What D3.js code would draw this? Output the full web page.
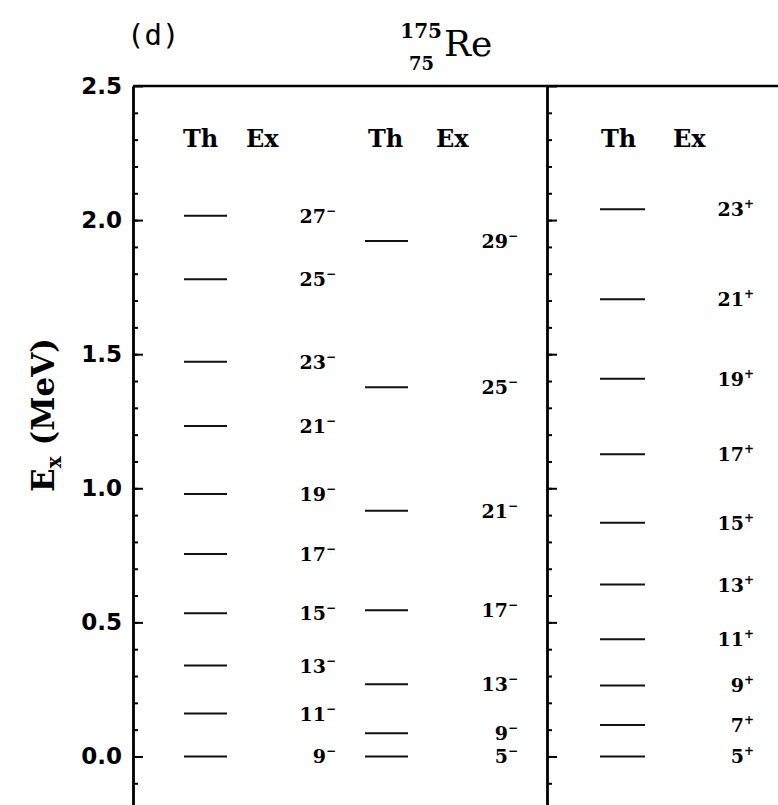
<!DOCTYPE html>
<html>
<head>
<meta charset="utf-8">
<script src="https://cdn.jsdelivr.net/npm/d3@7"></script>
<style>
  body { margin: 0; background: #fff; }
  svg { display: block; }
</style>
</head>
<body>
<div id="chart"></div>
<script>
// level energies (MeV), theory columns only
var spinsA = [9, 11, 13, 15, 17, 19, 21, 23, 25, 27];
var energiesA = [0.0, 0.160, 0.339, 0.534, 0.755, 0.979, 1.232, 1.472, 1.779, 2.016];
var parityA = "−";

var spinsB = [5, 9, 13, 17, 21, 25, 29];
var energiesB = [0.0, 0.087, 0.269, 0.545, 0.916, 1.377, 1.922];
var parityB = "−";

var spinsC = [5, 7, 9, 11, 13, 15, 17, 19, 21, 23];
var energiesC = [0.0, 0.117, 0.265, 0.437, 0.641, 0.871, 1.127, 1.408, 1.705, 2.040];
var parityC = "+";

var yTicks = [0.0, 0.5, 1.0, 1.5, 2.0, 2.5];
var columnHeads = ["Th", "Ex"];

var W = 778, H = 805;
var svg = d3.select("#chart").append("svg")
    .attr("width", W).attr("height", H);

var y = d3.scaleLinear().domain([-0.2, 2.5]).range([810.1, 86]);
var leftX = 133, midX = 547;

// frame
svg.append("line").attr("x1", leftX).attr("x2", W + 5).attr("y1", y(2.5)).attr("y2", y(2.5))
    .attr("stroke", "#000").attr("stroke-width", 2.5);

function drawAxis(xpos, withLabels) {
    var g = svg.append("g").attr("transform", "translate(" + xpos + ",0)");
    var minor = d3.axisLeft(y).tickValues(d3.range(-2, 25).map(function(d) { return d / 10; }))
        .tickSize(-5).tickSizeOuter(0).tickFormat("");
    g.append("g").call(minor);
    var major = d3.axisLeft(y).tickValues(yTicks).tickSize(-10).tickSizeOuter(0).tickPadding(11)
        .tickFormat(withLabels ? d3.format(".1f") : "");
    g.append("g").attr("class", "major").call(major);
    g.selectAll("path.domain").attr("stroke", "#000").attr("stroke-width", 2.4);
    g.selectAll(".tick line").attr("stroke", "#000").attr("stroke-width", 2);
    g.selectAll(".tick text")
        .style("font-family", "'DejaVu Sans', sans-serif")
        .style("font-weight", "bold")
        .style("font-size", "23px")
        .attr("fill", "#000");
}
drawAxis(leftX, true);
drawAxis(midX, false);

// columns
var columns = [
    { spins: spinsA, energies: energiesA, parity: parityA, x0: 184, x1: 227, labelEnd: 336, headX: [183, 246] },
    { spins: spinsB, energies: energiesB, parity: parityB, x0: 365, x1: 408, labelEnd: 518, headX: [368, 436] },
    { spins: spinsC, energies: energiesC, parity: parityC, x0: 600, x1: 645, labelEnd: 754, headX: [601, 673] }
];

columns.forEach(function(col) {
    var levels = col.spins.map(function(s, i) { return { spin: s, e: col.energies[i] }; });
    var g = svg.append("g");

    g.selectAll(".head").data(columnHeads).enter().append("text")
        .attr("x", function(d, i) { return col.headX[i]; })
        .attr("y", 147)
        .style("font-family", "'DejaVu Serif', serif")
        .style("font-weight", "bold")
        .style("font-size", "24px")
        .text(function(d) { return d; });

    g.selectAll(".lvl").data(levels).enter().append("line")
        .attr("x1", col.x0).attr("x2", col.x1)
        .attr("y1", function(d) { return y(d.e); })
        .attr("y2", function(d) { return y(d.e); })
        .attr("stroke", "#111").attr("stroke-width", 2);

    var t = g.selectAll(".lab").data(levels).enter().append("text")
        .attr("x", col.labelEnd)
        .attr("y", function(d) { return y(d.e) + 7; })
        .attr("text-anchor", "end")
        .style("font-family", "'DejaVu Serif', serif")
        .style("font-weight", "bold")
        .style("font-size", "19px");
    t.append("tspan").text(function(d) { return d.spin; });
    t.append("tspan").attr("dy", -8).style("font-size", "12px").text(col.parity);
});

// panel tag
svg.append("text").attr("x", 127).attr("y", 45)
    .style("font-family", "'DejaVu Sans Mono', monospace")
    .style("font-size", "29px")
    .text("(d)");

// nucleus title
svg.append("text").attr("x", 442).attr("y", 38).attr("text-anchor", "end")
    .style("font-family", "'DejaVu Serif', serif").style("font-weight", "bold").style("font-size", "20px")
    .text("175");
svg.append("text").attr("x", 434).attr("y", 70).attr("text-anchor", "end")
    .style("font-family", "'DejaVu Serif', serif").style("font-weight", "bold").style("font-size", "18px")
    .text("75");
svg.append("text").attr("x", 444).attr("y", 56)
    .style("font-family", "'DejaVu Serif', serif").style("font-size", "36px")
    .text("Re");

// y axis title
var yt = svg.append("text")
    .attr("transform", "translate(54,415) rotate(-90)")
    .attr("text-anchor", "middle")
    .style("font-family", "'DejaVu Serif', serif")
    .style("font-weight", "bold")
    .style("font-size", "31px");
yt.append("tspan").text("E");
yt.append("tspan").attr("dy", 7).style("font-size", "20px").text("x");
yt.append("tspan").attr("dy", -7).text(" (MeV)");
</script>
</body>
</html>
